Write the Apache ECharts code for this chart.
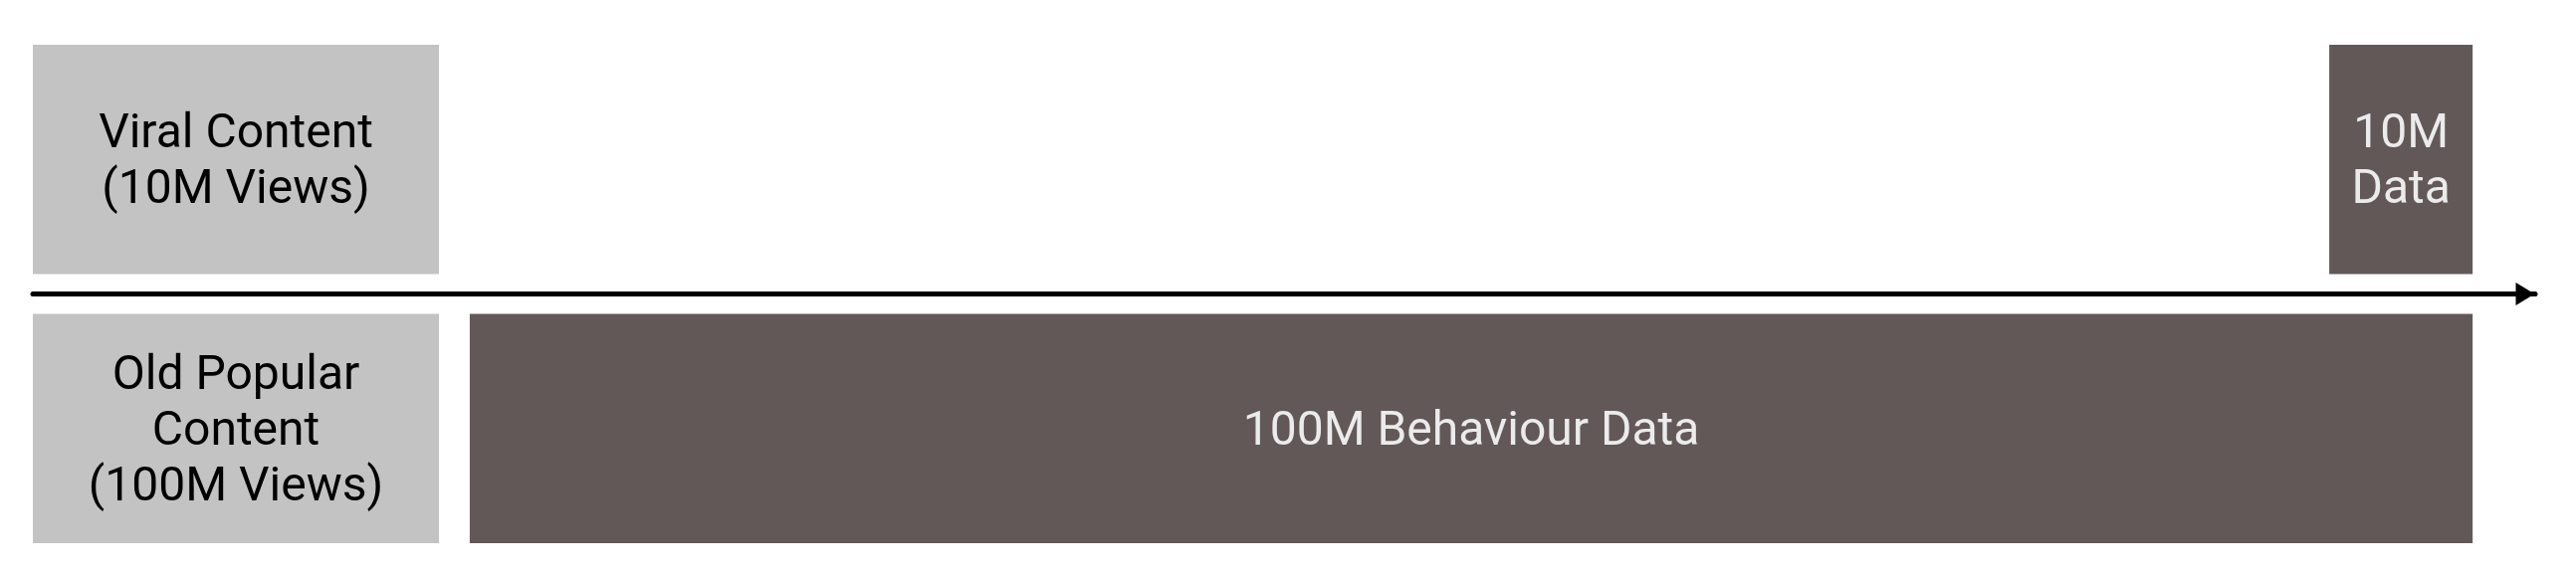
<!DOCTYPE html>
<html>
<head>
<meta charset="utf-8">
<title>Viral vs old popular content</title>
<script src="https://cdn.jsdelivr.net/npm/echarts@6/dist/echarts.min.js"></script>
<style>
    html, body { margin: 0; padding: 0; background: #fff; }
    #timeline-chart { width: 2588px; height: 580px; }
</style>
</head>
<body>
<div id="timeline-chart"></div>
<script>
// rows: 1 = above the time arrow, -1 = below it
const blockRows = [1, -1, -1, 1];
const blockStart = [0, 0, 174.6, 917.7];
const blockEnd = [162.3, 162.3, 975, 975];
const blockKinds = ['views', 'views', 'data', 'data'];
const blockLabels = [
    'Viral Content\n(10M Views)',
    'Old Popular\nContent\n(100M Views)',
    '100M Behaviour Data',
    '10M\nData'
];

const getFill = (kind) => {
    if (kind === 'views') return '#c3c3c3';
    if (kind === 'data') return '#625858';
}

const getTextColor = (kind) => {
    if (kind === 'views') return '#000000';
    if (kind === 'data') return '#ebebeb';
}

function renderBlock(params, api) {
    const row = api.value(0);
    const kind = blockKinds[params.dataIndex];
    // leave a small gap on both sides of the arrow
    const yOuter = row;
    const yInner = row * 0.08;
    const p1 = api.coord([api.value(1), Math.max(yOuter, yInner)]);
    const p2 = api.coord([api.value(2), Math.min(yOuter, yInner)]);
    return {
        type: 'rect',
        shape: {
            x: p1[0],
            y: p1[1],
            width: p2[0] - p1[0],
            height: p2[1] - p1[1]
        },
        style: { fill: getFill(kind) },
        textContent: {
            style: {
                text: blockLabels[params.dataIndex],
                fill: getTextColor(kind),
                font: '48px Roboto',
                lineHeight: 56,
                align: 'center'
            }
        },
        textConfig: { position: 'inside', offset: [0, 4] }
    };
}

const renderTimeline = () => {
    const chart = echarts.init(document.querySelector('#timeline-chart'));
    const seriesData = blockRows.map((row, i) => [row, blockStart[i], blockEnd[i]]);
    chart.setOption({
        animation: false,
        grid: {
            left: 33,
            right: 41,
            top: 45,
            bottom: 34
        },
        xAxis: {
            type: 'value',
            min: 0,
            max: 1000,
            axisLine: {
                show: true,
                onZero: true,
                symbol: ['none', 'triangle'],
                symbolSize: [23, 19],
                symbolOffset: [0, -10],
                lineStyle: { color: '#000', width: 5 }
            },
            axisTick: { show: false },
            axisLabel: { show: false },
            splitLine: { show: false }
        },
        yAxis: {
            type: 'value',
            min: -1,
            max: 1,
            show: false
        },
        series: [
            {
                type: 'custom',
                renderItem: renderBlock,
                encode: { x: [1, 2], y: 0 },
                data: seriesData,
                z: 1
            }
        ]
    });
}

renderTimeline();
</script>
</body>
</html>
